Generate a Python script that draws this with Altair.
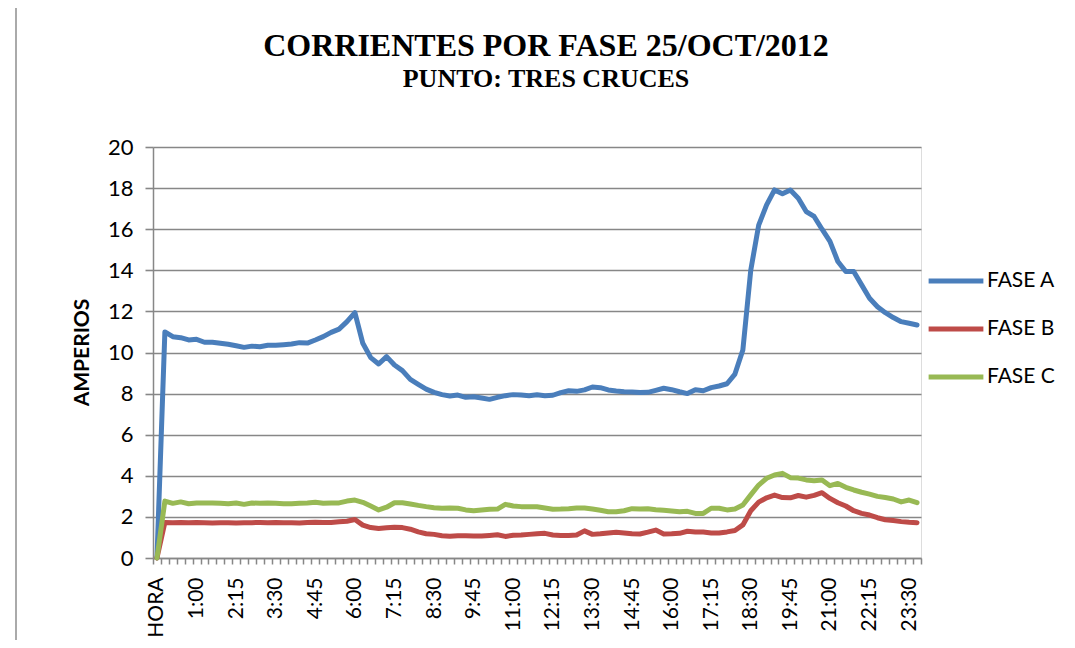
import altair as alt
import pandas as pd

# Categories: "HORA" then every 15 minutes of the day
horas = ["HORA"] + [f"{h}:{m:02d}" for h in range(24) for m in (0, 15, 30, 45)]

fase_a = [0, 11.0, 10.77, 10.72, 10.61, 10.64, 10.50, 10.50, 10.45, 10.40,
          10.33, 10.25, 10.31, 10.28, 10.35, 10.35, 10.38, 10.41, 10.48, 10.46,
          10.61, 10.77, 10.98, 11.14, 11.50, 11.94, 10.45, 9.75, 9.44, 9.80,
          9.39, 9.12, 8.69, 8.45, 8.22, 8.06, 7.95, 7.88, 7.93, 7.82,
          7.85, 7.79, 7.72, 7.82, 7.90, 7.95, 7.93, 7.90, 7.94, 7.90,
          7.92, 8.05, 8.14, 8.11, 8.18, 8.32, 8.29, 8.18, 8.13, 8.09,
          8.08, 8.05, 8.06, 8.16, 8.26, 8.19, 8.09, 8.00, 8.19, 8.14,
          8.29, 8.37, 8.48, 8.95, 10.12, 14.01, 16.20, 17.18, 17.91, 17.72,
          17.91, 17.51, 16.86, 16.62, 16.00, 15.41, 14.43, 13.94, 13.94, 13.29,
          12.64, 12.23, 11.94, 11.70, 11.50, 11.42, 11.34]

fase_b = [0, 1.73, 1.72, 1.73, 1.72, 1.73, 1.72, 1.70, 1.72, 1.72,
          1.70, 1.71, 1.72, 1.73, 1.72, 1.73, 1.72, 1.72, 1.70, 1.73,
          1.74, 1.73, 1.73, 1.76, 1.79, 1.87, 1.60, 1.48, 1.44, 1.47,
          1.50, 1.48, 1.40, 1.27, 1.18, 1.15, 1.08, 1.06, 1.08, 1.08,
          1.07, 1.07, 1.10, 1.13, 1.05, 1.11, 1.12, 1.15, 1.18, 1.20,
          1.12, 1.10, 1.10, 1.12, 1.32, 1.15, 1.18, 1.22, 1.25, 1.22,
          1.18, 1.17, 1.26, 1.36, 1.17, 1.18, 1.20, 1.30, 1.26, 1.26,
          1.22, 1.22, 1.27, 1.34, 1.61, 2.30, 2.72, 2.93, 3.06, 2.94,
          2.93, 3.04, 2.96, 3.05, 3.18, 2.90, 2.69, 2.53, 2.30, 2.17,
          2.09, 1.96, 1.86, 1.82, 1.77, 1.74, 1.72]

fase_c = [0, 2.77, 2.66, 2.73, 2.64, 2.68, 2.68, 2.68, 2.66, 2.64,
          2.68, 2.61, 2.68, 2.66, 2.68, 2.66, 2.64, 2.64, 2.66, 2.68,
          2.71, 2.66, 2.68, 2.68, 2.77, 2.82, 2.71, 2.53, 2.34, 2.47,
          2.69, 2.69, 2.63, 2.56, 2.50, 2.45, 2.42, 2.43, 2.42, 2.34,
          2.30, 2.34, 2.37, 2.38, 2.61, 2.53, 2.50, 2.50, 2.49, 2.43,
          2.37, 2.38, 2.40, 2.43, 2.43, 2.38, 2.32, 2.25, 2.25, 2.30,
          2.40, 2.38, 2.40, 2.35, 2.32, 2.29, 2.25, 2.27, 2.17, 2.17,
          2.42, 2.42, 2.34, 2.38, 2.58, 3.07, 3.55, 3.88, 4.04, 4.12,
          3.91, 3.89, 3.80, 3.76, 3.80, 3.52, 3.63, 3.44, 3.31, 3.20,
          3.11, 3.00, 2.94, 2.87, 2.73, 2.82, 2.69]

series_names = ["FASE A", "FASE B", "FASE C"]
series_colors = ["#4A7EBB", "#BE4B48", "#98B954"]
y_ticks = [0, 2, 4, 6, 8, 10, 12, 14, 16, 18, 20]

rows = []
for name, vals in zip(series_names, [fase_a, fase_b, fase_c]):
    for i, (h, v) in enumerate(zip(horas, vals)):
        rows.append({"hora": h, "fase": name, "amperios": v, "idx": i})
df = pd.DataFrame(rows)

shown = [h for i, h in enumerate(horas) if i % 5 == 0]
label_expr = "indexof([" + ",".join(f"'{s}'" for s in shown) + "], datum.value) >= 0 ? datum.value : ''"

W, H = 768, 411
GRID = "#878787"
FONT = "Lato"

lines = alt.Chart(df).mark_line(strokeWidth=5, strokeJoin="round", strokeCap="round").encode(
    x=alt.X("hora:O", sort=horas, bandPosition=0.5,
            scale=alt.Scale(type="band", domain=horas, paddingInner=0, paddingOuter=0),
            axis=alt.Axis(title=None, labelAngle=-90, labelExpr=label_expr,
                          tickBand="extent", ticks=True, tickSize=6, tickColor=GRID,
                          tickWidth=1.5, domainColor=GRID, domainWidth=1.5,
                          labelFont=FONT, labelFontSize=21, labelColor="#000000",
                          labelPadding=13, grid=False, labelOverlap=False)),
    y=alt.Y("amperios:Q", scale=alt.Scale(domain=[0, 20], nice=False),
            axis=alt.Axis(title="AMPERIOS", values=y_ticks, grid=True, gridColor=GRID,
                          gridWidth=1.6, tickColor=GRID, tickSize=8, tickWidth=1.6,
                          domainColor=GRID, domainWidth=1.5,
                          labelFont=FONT, labelFontSize=22, labelColor="#000000",
                          labelPadding=12,
                          titleFont=FONT, titleFontSize=21, titleFontWeight="bold",
                          titleColor="#000000", titleAngle=-90, titleX=-71, titleY=205,
                          titleAlign="center", titleBaseline="middle")),
    color=alt.Color("fase:N", scale=alt.Scale(domain=series_names, range=series_colors),
                    legend=alt.Legend(title=None, orient="none", legendX=773, legendY=104,
                                      symbolType="stroke", symbolStrokeWidth=5,
                                      symbolSize=3000, labelFont=FONT, labelFontSize=21,
                                      labelColor="#000000", rowPadding=8, padding=0,
                                      labelOffset=1)),
    order="idx:Q",
)

# outer chart-area frame (Excel chart border, top and left edges visible)
frame_df = pd.DataFrame({"k": [0]})
frame_left = alt.Chart(frame_df).mark_rule(color="#8E8E8E", strokeWidth=1.5).encode(
    x=alt.value(-137), y=alt.value(-142), y2=alt.value(510))
frame_top = alt.Chart(frame_df).mark_rule(color="#8E8E8E", strokeWidth=1.5).encode(
    x=alt.value(-137), x2=alt.value(930), y=alt.value(-142))

chart = alt.layer(lines, frame_left, frame_top).properties(
    width=W, height=H,
    autosize=alt.AutoSizeParams(type="none"),
    padding={"left": 145, "top": 139, "right": 146, "bottom": 82},
    title=alt.TitleParams(
        text="CORRIENTES POR FASE 25/OCT/2012",
        subtitle="PUNTO: TRES CRUCES",
        font="Liberation Serif", fontSize=32, fontWeight="bold", color="#000000",
        subtitleFont="Liberation Serif", subtitleFontSize=26, subtitleFontWeight="bold",
        subtitleColor="#000000", anchor="middle", dx=9, offset=-89, subtitlePadding=3,
    ),
).configure_view(stroke=None).configure(background="#ffffff")

chart.save("out.html", embed_options={"renderer": "svg", "actions": False})
